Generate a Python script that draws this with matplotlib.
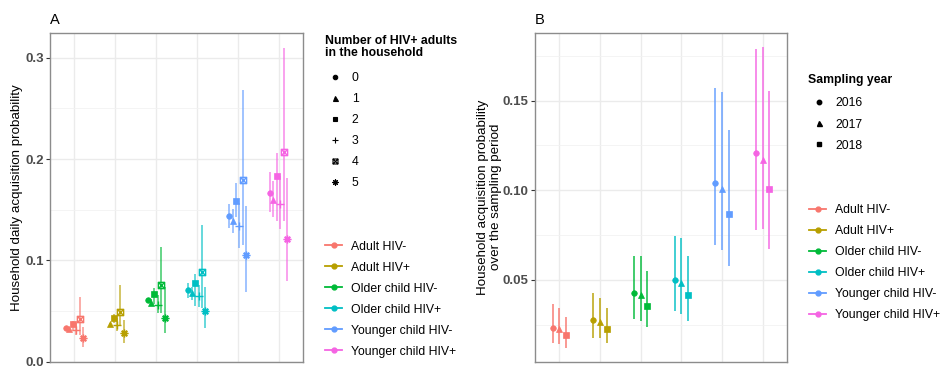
import numpy as np
import matplotlib
matplotlib.use("Agg")
import matplotlib.pyplot as plt
from matplotlib.path import Path
from matplotlib.lines import Line2D

plt.rcParams['font.family'] = ['Liberation Sans', 'DejaVu Sans']

nan = np.nan

groups = ["Adult HIV-", "Adult HIV+", "Older child HIV-", "Older child HIV+",
          "Younger child HIV-", "Younger child HIV+"]
colors = ['#F8766D', '#B79F00', '#00BA38', '#00BFC4', '#619CFF', '#F564E3']

# panel A: number of HIV+ adults in the household
n_adults = ['0', '1', '2', '3', '4', '5']
daily_est = [
    [0.0328, 0.0318, 0.0372, 0.0308, 0.0420, 0.0232],
    [nan, 0.0367, 0.0433, 0.0362, 0.0490, 0.0278],
    [0.0605, 0.0580, 0.0667, 0.0562, 0.0760, 0.0432],
    [0.0702, 0.0675, 0.0777, 0.0650, 0.0885, 0.0500],
    [0.1442, 0.1383, 0.1590, 0.1343, 0.1796, 0.1048],
    [0.1665, 0.1596, 0.1835, 0.1557, 0.2065, 0.1206],
]
daily_lo = [
    [0.0312, 0.0305, 0.0300, 0.0258, 0.0262, 0.0147],
    [nan, 0.0350, 0.0377, 0.0300, 0.0360, 0.0180],
    [0.0575, 0.0545, 0.0565, 0.0475, 0.0475, 0.0285],
    [0.0630, 0.0607, 0.0545, 0.0540, 0.0524, 0.0327],
    [0.1317, 0.1268, 0.1426, 0.1120, 0.1153, 0.0688],
    [0.1475, 0.1426, 0.1383, 0.1310, 0.1390, 0.0793],
]
daily_hi = [
    [0.0345, 0.0335, 0.0405, 0.0380, 0.0637, 0.0344],
    [nan, 0.0385, 0.0472, 0.0426, 0.0754, 0.0410],
    [0.0630, 0.0620, 0.0725, 0.0655, 0.1130, 0.0737],
    [0.0780, 0.0734, 0.0869, 0.0760, 0.1350, 0.0737],
    [0.1560, 0.1507, 0.1763, 0.1570, 0.2680, 0.1540],
    [0.1868, 0.1786, 0.2055, 0.1830, 0.3097, 0.1810],
]

# panel B: sampling year
years = ['2016', '2017', '2018']
period_est = [
    [0.0233, 0.0228, 0.0194],
    [0.0274, 0.0265, 0.0228],
    [0.0428, 0.0415, 0.0354],
    [0.0500, 0.0481, 0.0415],
    [0.1040, 0.1006, 0.0865],
    [0.1206, 0.1170, 0.1006],
]
period_lo = [
    [0.0150, 0.0144, 0.0122],
    [0.0176, 0.0176, 0.0146],
    [0.0280, 0.0269, 0.0235],
    [0.0324, 0.0309, 0.0269],
    [0.0694, 0.0669, 0.0576],
    [0.0778, 0.0783, 0.0670],
]
period_hi = [
    [0.0363, 0.0343, 0.0293],
    [0.0426, 0.0398, 0.0343],
    [0.0631, 0.0631, 0.0552],
    [0.0744, 0.0735, 0.0631],
    [0.1570, 0.1546, 0.1339],
    [0.1789, 0.1800, 0.1556],
]

# square with a cross inside (ggplot shape 7)
box_x = Path([(-1, -1), (1, -1), (1, 1), (-1, 1), (-1, -1),
              (-1, -1), (1, 1), (-1, 1), (1, -1)],
             [Path.MOVETO, Path.LINETO, Path.LINETO, Path.LINETO, Path.CLOSEPOLY,
              Path.MOVETO, Path.LINETO, Path.MOVETO, Path.LINETO])
shapes_a = ['o', '^', 's', '+', box_x, (8, 2, 0)]
sizes_a = [4, 4.5, 4, 6, 4.5, 5.5]
hollow_a = [False, False, False, True, True, True]
shapes_b = ['o', '^', 's']
sizes_b = [4, 4.5, 4]

W, H = 940, 368
fig = plt.figure(figsize=(W / 100, H / 100), dpi=100)
ax_a = fig.add_axes([50 / W, (H - 361.5) / H, 253 / W, 328.5 / H])
ax_b = fig.add_axes([535 / W, (H - 361.5) / H, 252 / W, 328.5 / H])


def style_axes(ax, major, minor, ylim):
    ax.set_facecolor('white')
    ax.set_xlim(0.4, len(groups) + 0.6)
    ax.set_ylim(*ylim)
    ax.set_xticks(np.arange(1, len(groups) + 1))
    ax.set_yticks(major)
    ax.set_yticks(minor, minor=True)
    ax.grid(True, which='major', color='#EBEBEB', lw=1.0, zorder=0)
    ax.grid(True, which='minor', axis='y', color='#F2F2F2', lw=0.6, zorder=0)
    ax.set_axisbelow(True)
    ax.tick_params(axis='x', length=0, labelbottom=False)
    ax.tick_params(axis='y', which='major', length=3, color='#333333',
                   labelsize=9.5, labelcolor='#4D4D4D', pad=1.5)
    ax.tick_params(axis='y', which='minor', length=0)
    for s in ax.spines.values():
        s.set_color('#8C8C8C')
        s.set_linewidth(1.0)


def draw_ranges(ax, est, lo, hi, shapes, sizes, hollow, alpha):
    k = len(shapes)
    offs = (np.arange(k) - (k - 1) / 2) * 0.5 / k
    for i, col in enumerate(colors):
        for j in range(k):
            if np.isnan(est[i][j]):
                continue
            x = i + 1 + offs[j]
            ax.plot([x, x], [lo[i][j], hi[i][j]], color=col, lw=1.3,
                    alpha=alpha, solid_capstyle='butt', zorder=2)
            if hollow[j]:
                ax.plot(x, est[i][j], ls='none', marker=shapes[j], ms=sizes[j],
                        mfc='none', mec=col, mew=1.0, zorder=3)
            else:
                ax.plot(x, est[i][j], ls='none', marker=shapes[j], ms=sizes[j],
                        mfc=col, mec=col, mew=0.5, zorder=3)


style_axes(ax_a, [0.0, 0.1, 0.2, 0.3], [0.05, 0.15, 0.25], (0.0, 0.3245))
draw_ranges(ax_a, daily_est, daily_lo, daily_hi, shapes_a, sizes_a, hollow_a, 0.65)
ax_a.set_yticklabels(['0.0', '0.1', '0.2', '0.3'], fontweight='bold')
ax_a.set_ylabel('Household daily acquisition probability', fontsize=9.6)
ax_a.yaxis.set_label_coords((23 - 50) / 253, 0.5)

style_axes(ax_b, [0.05, 0.10, 0.15], [0.025, 0.075, 0.125, 0.175], (0.0044, 0.1878))
draw_ranges(ax_b, period_est, period_lo, period_hi, shapes_b, sizes_b,
            [False] * 3, 0.8)
ax_b.set_yticklabels(['0.05', '0.10', '0.15'], fontweight='bold')
ax_b.set_ylabel('Household acquisition probability\nover the sampling period',
                fontsize=9.6, linespacing=1.1)
ax_b.yaxis.set_label_coords((502 - 535) / 252, 0.5)

fig.text(50 / W, 1 - 13 / H, 'A', fontsize=10.5, va='top', ha='left')
fig.text(535 / W, 1 - 13 / H, 'B', fontsize=10.5, va='top', ha='left')

leg_kw = dict(frameon=False, fontsize=8.8, labelspacing=0.74, handlelength=1.4,
              handletextpad=0.72, borderpad=0, borderaxespad=0, loc='upper left')

fig.text(325 / W, 1 - 35 / H, 'Number of HIV+ adults\nin the household',
         fontsize=8.8, fontweight='bold', va='top', ha='left', linespacing=1.05)
shape_handles = [Line2D([], [], ls='none', marker=m, ms=s * 0.8, color='black',
                        mfc='none' if h else 'black', mew=0.8)
                 for m, s, h in zip(shapes_a, sizes_a, hollow_a)]
fig.legend(shape_handles, n_adults, bbox_to_anchor=(326 / W, 1 - 72 / H), **leg_kw)

color_handles = [Line2D([], [], color=c, lw=1.3, marker='o', ms=3.5) for c in colors]
fig.legend(color_handles, groups, bbox_to_anchor=(325 / W, 1 - 240.5 / H), **leg_kw)

fig.text(808 / W, 1 - 80 / H, 'Sampling year', fontsize=8.8, fontweight='bold',
         va='center', ha='left')
year_handles = [Line2D([], [], ls='none', marker=m, ms=s * 0.8, color='black')
                for m, s in zip(shapes_b, sizes_b)]
fig.legend(year_handles, years, bbox_to_anchor=(810 / W, 1 - 97.5 / H), **leg_kw)
fig.legend(color_handles, groups, bbox_to_anchor=(809 / W, 1 - 204 / H), **leg_kw)

fig.savefig('out.png', dpi=100, facecolor='white')
